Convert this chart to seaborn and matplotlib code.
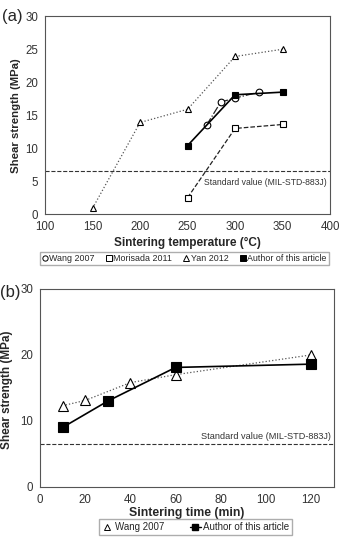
import numpy as np
import pandas as pd
import seaborn as sns
import matplotlib.pyplot as plt
from matplotlib.lines import Line2D

# --- data (a): shear strength vs sintering temperature ---
wang_a_temp = [270, 285, 300, 325]
wang_a_val = [13.5, 17.0, 17.6, 18.5]
morisada_temp = [250, 300, 350]
morisada_val = [2.5, 13.0, 13.6]
yan_temp = [150, 200, 250, 300, 350]
yan_val = [0.9, 13.9, 15.9, 23.9, 25.0]
author_a_temp = [250, 300, 350]
author_a_val = [10.4, 18.1, 18.5]

# --- data (b): shear strength vs sintering time ---
wang_b_time = [10, 20, 40, 60, 120]
wang_b_val = [12.3, 13.1, 15.8, 17.0, 20.0]
author_b_time = [10, 30, 60, 120]
author_b_val = [9.0, 13.0, 18.1, 18.6]

STANDARD = 6.5
STANDARD_LABEL = "Standard value (MIL-STD-883J)"

sns.set_style("white")
plt.rcParams['font.family'] = ['Liberation Sans', 'DejaVu Sans']

fig = plt.figure(figsize=(3.41, 5.41), dpi=100)
ax_a = fig.add_axes([0.132, 0.604, 0.836, 0.366])
ax_b = fig.add_axes([0.117, 0.100, 0.862, 0.366])

ms_a = 4.8
ms_b = 6.5

def draw(ax, x, y, marker, ls, lw, color, mfc, ms):
    sns.lineplot(x=x, y=y, ax=ax, marker=marker, linestyle=ls, linewidth=lw,
                 color=color, markerfacecolor=mfc, markeredgecolor='black',
                 markeredgewidth=0.8, markersize=ms, legend=False)

# --- panel (a) ---
draw(ax_a, yan_temp, yan_val, '^', ':', 0.9, '#555555', 'white', ms_a)
draw(ax_a, morisada_temp, morisada_val, 's', '--', 0.9, '#222222', 'white', ms_a)
draw(ax_a, wang_a_temp, wang_a_val, 'o', '-.', 0.9, '#222222', 'white', ms_a)
draw(ax_a, author_a_temp, author_a_val, 's', '-', 1.2, 'black', 'black', ms_a)
ax_a.axhline(STANDARD, color='#333333', linestyle='--', linewidth=0.8)
ax_a.text(397, 4.8, STANDARD_LABEL, ha='right', va='center', fontsize=6.2, color='#333333')
ax_a.set_xlim(100, 400)
ax_a.set_ylim(0, 30)
ax_a.set_xticks(np.arange(100, 401, 50))
ax_a.set_yticks(np.arange(0, 31, 5))
ax_a.set_xlabel("Sintering temperature (°C)", fontsize=8.5, fontweight='bold')
ax_a.set_ylabel("Shear strength (MPa)", fontsize=8.2, fontweight='bold')
ax_a.xaxis.set_label_coords(0.498, -0.115)
ax_a.yaxis.set_label_coords(-0.085, 0.5)
fig.text(0.005, 1 - 17 / 541, "(a)", fontsize=12, ha='left', va='center')

leg_a = [
    Line2D([], [], marker='o', ls='none', mfc='white', mec='black', ms=3.8, mew=0.7),
    Line2D([], [], marker='s', ls='none', mfc='white', mec='black', ms=3.8, mew=0.7),
    Line2D([], [], marker='^', ls='none', mfc='white', mec='black', ms=3.8, mew=0.7),
    Line2D([], [], marker='s', ls='none', mfc='black', mec='black', ms=3.8, mew=0.7),
]
ax_a.legend(leg_a, ["Wang 2007", "Morisada 2011", "Yan 2012", "Author of this article"],
            loc='upper center', bbox_to_anchor=(0.54, 1 - 252 / 541),
            bbox_transform=fig.transFigure, ncol=4, fontsize=6.4,
            frameon=True, fancybox=False, edgecolor='#999999', handlelength=0.6,
            handletextpad=0.2, columnspacing=1.3, borderpad=0.25, borderaxespad=0)

# --- panel (b) ---
draw(ax_b, wang_b_time, wang_b_val, '^', ':', 0.9, '#555555', 'white', ms_b)
draw(ax_b, author_b_time, author_b_val, 's', '-', 1.2, 'black', 'black', ms_b)
ax_b.axhline(STANDARD, color='#333333', linestyle='--', linewidth=0.8)
ax_b.text(128.5, 7.6, STANDARD_LABEL, ha='right', va='center', fontsize=6.6, color='#333333')
ax_b.set_xlim(0, 130)
ax_b.set_ylim(0, 30)
ax_b.set_xticks(np.arange(0, 121, 20))
ax_b.set_xticks(np.arange(10, 131, 20), minor=True)
ax_b.set_yticks(np.arange(0, 31, 10))
ax_b.set_yticks(np.arange(5, 31, 10), minor=True)
ax_b.set_xlabel("Sintering time (min)", fontsize=8.8, fontweight='bold')
ax_b.set_ylabel("Shear strength (MPa)", fontsize=8.5, fontweight='bold')
ax_b.xaxis.set_label_coords(0.5, -0.1)
ax_b.yaxis.set_label_coords(-0.09, 0.49)
fig.text(0.0, 1 - 292 / 541, "(b)", fontsize=12, ha='left', va='center')

leg_b = [
    Line2D([], [], marker='^', ls='none', mfc='white', mec='black', ms=4.2, mew=0.7),
    Line2D([], [], marker='s', ls='-', color='black', mfc='black', mec='black', ms=4.2, lw=1),
]
ax_b.legend(leg_b, ["Wang 2007", "Author of this article"],
            loc='upper center', bbox_to_anchor=(0.573, 1 - 519 / 541),
            bbox_transform=fig.transFigure, ncol=2, fontsize=7.0,
            frameon=True, fancybox=False, edgecolor='#999999', handlelength=1.2,
            handletextpad=0.2, columnspacing=2.6, borderpad=0.3, borderaxespad=0)

for ax in (ax_a, ax_b):
    for sp in ax.spines.values():
        sp.set_color('#555555')
        sp.set_linewidth(0.8)
    ax.tick_params(axis='both', which='both', direction='in', length=2.5, width=0.6,
                   labelsize=8.3, pad=5, colors='#333333', labelcolor='#333333')
    ax.tick_params(axis='both', which='minor', length=1.5)

fig.savefig("out.png", dpi=100)
